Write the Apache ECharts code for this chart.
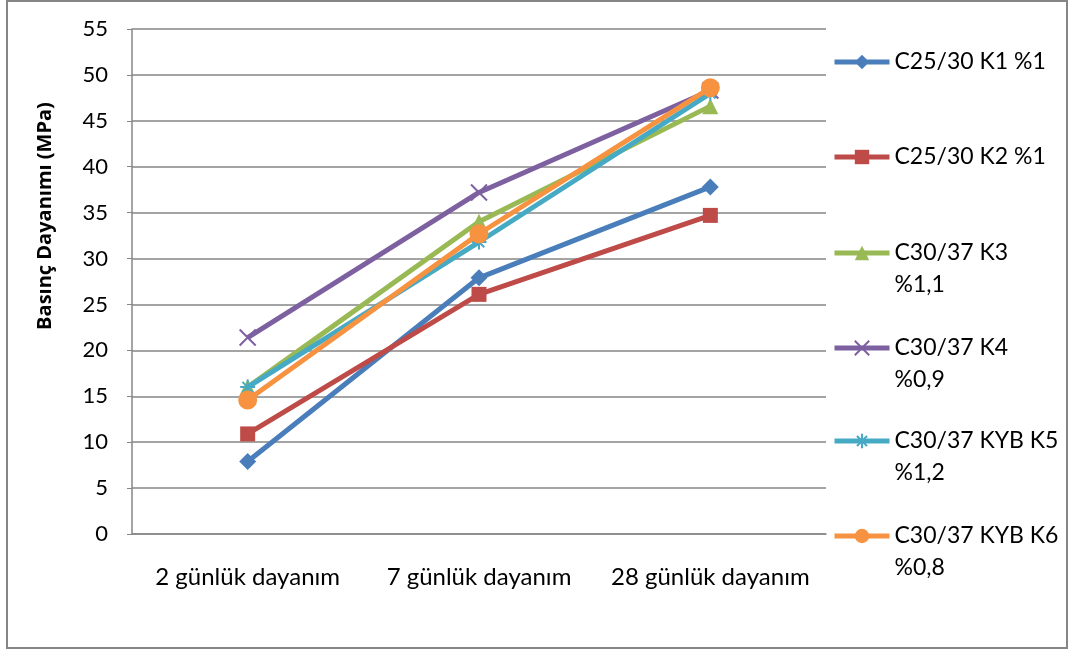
<!DOCTYPE html>
<html>
<head>
<meta charset="utf-8">
<title>Basınç Dayanımı</title>
<script src="https://cdn.jsdelivr.net/npm/echarts@6/dist/echarts.min.js"></script>
<style>
  html, body { margin: 0; padding: 0; background: #fff; }
  #chart { width: 1068px; height: 650px; }
</style>
</head>
<body>
<div id="chart"></div>
<script>
// kategoriler (x ekseni)
const categories = ['2 günlük dayanım', '7 günlük dayanım', '28 günlük dayanım'];

// seri adları ve lejant etiketleri (iki satırlı olanlar)
const seriesNames = ['C25/30 K1 %1', 'C25/30 K2 %1', 'C30/37 K3 %1,1', 'C30/37 K4 %0,9', 'C30/37 KYB K5 %1,2', 'C30/37 KYB K6 %0,8'];
const legendLabels = ['C25/30 K1 %1', 'C25/30 K2 %1', 'C30/37 K3\n%1,1', 'C30/37 K4\n%0,9', 'C30/37 KYB K5\n%1,2', 'C30/37 KYB K6\n%0,8'];

// basınç dayanımı değerleri (MPa)
const k1 = [7.9, 27.9, 37.8];
const k2 = [10.9, 26.1, 34.7];
const k3 = [16.0, 34.0, 46.6];
const k4 = [21.4, 37.2, 48.3];
const k5 = [16.0, 31.8, 48.0];
const k6 = [14.6, 32.7, 48.6];

// y ekseni
const yTicks = [0, 5, 10, 15, 20, 25, 30, 35, 40, 45, 50, 55];

const chart = echarts.init(document.getElementById('chart'));

const font = 'Lato';
const colors = ['#4A7EBB', '#BE4B48', '#98B954', '#7D60A0', '#46AAC5', '#F69240'];
const symbols = ['diamond', 'rect', 'triangle',
  'path://M0,0 L10,10 M10,0 L0,10',
  'path://M5,0 L5,10 M0,5 L10,5 M1.5,1.5 L8.5,8.5 M8.5,1.5 L1.5,8.5',
  'circle'];
const symbolSizes = [17, 15, 16, 16, 15, 19];
const allData = [k1, k2, k3, k4, k5, k6];

const series = allData.map((d, i) => {
  const isCross = i === 3 || i === 4;
  return {
    name: seriesNames[i],
    type: 'line',
    data: d,
    symbol: symbols[i],
    symbolSize: symbolSizes[i],
    z: 2 + i,
    lineStyle: { color: colors[i], width: 5 },
    itemStyle: isCross
      ? { color: 'transparent', borderColor: colors[i], borderWidth: 2 }
      : { color: colors[i], borderWidth: 0 },
    emphasis: { disabled: true },
    animation: false
  };
});

// her seri için ayrı lejant; iki satırlı etiketlerde baştaki boş satır
// ilk satırı simgeyle aynı hizaya getirir
const legendTops = [62, 157, 253, 348, 441, 536];
const legends = seriesNames.map((name, i) => {
  const twoLine = legendLabels[i].indexOf('\n') >= 0;
  return {
    orient: 'vertical',
    left: 827,
    top: legendTops[i] - (twoLine ? 53 : 21),
    itemWidth: 55,
    itemHeight: 18,
    itemGap: 0,
    selectedMode: false,
    data: [name],
    lineStyle: { width: 5 },
    formatter: () => (twoLine ? '\n' : '') + legendLabels[i],
    textStyle: { fontFamily: font, fontSize: 23, color: '#000', lineHeight: 32 }
  };
});

const option = {
  backgroundColor: '#fff',
  color: colors,
  grid: { left: 132, right: 242, top: 29, bottom: 116 },
  legend: legends,
  xAxis: {
    type: 'category',
    data: categories,
    boundaryGap: true,
    axisLine: { lineStyle: { color: '#868686', width: 1.5 } },
    axisTick: { show: false },
    axisLabel: { interval: 0, fontFamily: font, fontSize: 24, color: '#000', margin: 31 }
  },
  yAxis: {
    type: 'value',
    min: yTicks[0],
    max: yTicks[yTicks.length - 1],
    interval: 5,
    axisLine: { show: true, lineStyle: { color: '#868686', width: 1.5 } },
    axisTick: { show: true, length: 5, lineStyle: { color: '#868686' } },
    splitLine: { lineStyle: { color: '#868686', width: 1.5 } },
    axisLabel: { fontFamily: font, fontSize: 22, color: '#000', margin: 24 }
  },
  graphic: [
    {
      type: 'rect',
      shape: { x: 7, y: 1, width: 1060, height: 647 },
      style: { fill: 'none', stroke: '#868686', lineWidth: 2 },
      silent: true
    },
    {
      type: 'text',
      x: 45,
      y: 216,
      rotation: Math.PI / 2,
      style: {
        text: 'Basınç Dayanımı (MPa)',
        fontFamily: 'Open Sans',
        fontSize: 20,
        fontWeight: 'bold',
        fill: '#000',
        textAlign: 'center',
        textVerticalAlign: 'middle'
      }
    }
  ],
  series: series,
  animation: false
};

chart.setOption(option);
</script>
</body>
</html>
